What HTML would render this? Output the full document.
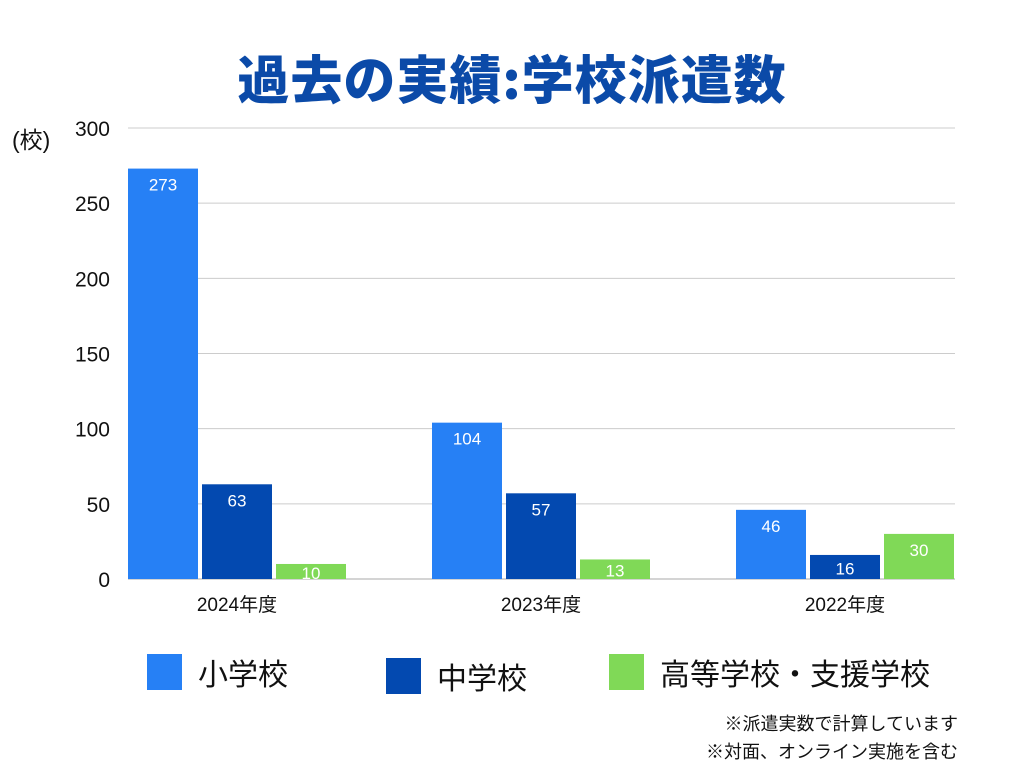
<!DOCTYPE html>
<html><head><meta charset="utf-8"><style>
body{margin:0;width:1024px;height:768px;background:#fff;font-family:"Liberation Sans","Noto Sans CJK JP",sans-serif;overflow:hidden;position:relative}
.t{position:absolute;white-space:nowrap}
</style></head><body>
<div class="t" style="left:0;width:1024px;text-align:center;top:44px;font-size:52px;font-weight:900;color:#0b4aa8;font-family:'Noto Sans CJK JP',sans-serif;letter-spacing:1px;line-height:66px">過去の実績:学校派遣数</div>
<div class="t" style="left:12px;top:121px;font-size:23px;color:#111">(校)</div>
<svg id="c" width="1024" height="768" style="position:absolute;left:0;top:0"></svg>
<div>
<div class="t" style="left:147px;top:650px"><span style="display:inline-block;width:35px;height:36px;background:#2680f5;vertical-align:middle"></span><span style="font-size:30px;margin-left:16px;vertical-align:middle;color:#111">小学校</span></div>
<div class="t" style="left:386px;top:654px"><span style="display:inline-block;width:35px;height:36px;background:#0349b0;vertical-align:middle"></span><span style="font-size:30px;margin-left:16px;vertical-align:middle;color:#111">中学校</span></div>
<div class="t" style="left:609px;top:650px"><span style="display:inline-block;width:35px;height:36px;background:#80d957;vertical-align:middle"></span><span style="font-size:30px;margin-left:16px;vertical-align:middle;color:#111">高等学校・支援学校</span></div>
</div>
<div class="t" style="right:66px;top:710px;font-size:18px;color:#111">※派遣実数で計算しています</div>
<div class="t" style="right:66px;top:738px;font-size:18px;color:#111">※対面、オンライン実施を含む</div>
<script>
const categories=["2024年度","2023年度","2022年度"];
const elementary=[273,104,46];
const juniorHigh=[63,57,16];
const highSpecial=[10,13,30];
const yTicks=[0,50,100,150,200,250,300];
const svg=document.getElementById('c');const NS='http://www.w3.org/2000/svg';
const x0=128,x1=955,yb=579,yt=128,ymax=300;
const y=v=>yb-(v/ymax)*(yb-yt);
function mk(t,a){const e=document.createElementNS(NS,t);for(const k in a)e.setAttribute(k,a[k]);svg.appendChild(e);return e;}
yTicks.forEach(v=>{
 const l=mk('line',{x1:x0,x2:x1,y1:y(v),y2:y(v),stroke:v===0?'#aaa':'#ccc','stroke-width':1});
 
 
 const tx=mk('text',{x:110,y:y(v)+8,'text-anchor':'end','font-size':21,fill:'#111','font-family':'Liberation Sans,sans-serif'});
 tx.textContent=v;
 
 
});
const series=[[elementary,'#2680f5','elementary'],[juniorHigh,'#0349b0','junior-high'],[highSpecial,'#80d957','high-special']];
const bw=70,step=74;
categories.forEach((c,i)=>{
 const gs=x0+i*304;
 series.forEach((s,j)=>{
  const v=s[0][i];const bx=gs+j*step;
  const top=y(v);
  const r=mk('rect',{x:bx,y:top,width:bw,height:yb-top,fill:s[1]});
  
  
  const cy=Math.min(top+16,(top+yb)/2+1.5);
  const tx=mk('text',{x:bx+bw/2,y:cy+6,'text-anchor':'middle','font-size':17,fill:'#fff','font-family':'Liberation Sans,sans-serif'});
  tx.textContent=v;
  
  
 });
 const cx=mk('text',{x:gs+step+bw/2,y:611,'text-anchor':'middle','font-size':19,fill:'#111','font-family':'Liberation Sans,Noto Sans CJK JP,sans-serif'});
 cx.textContent=c;
 
 
});
</script>
</body></html>
